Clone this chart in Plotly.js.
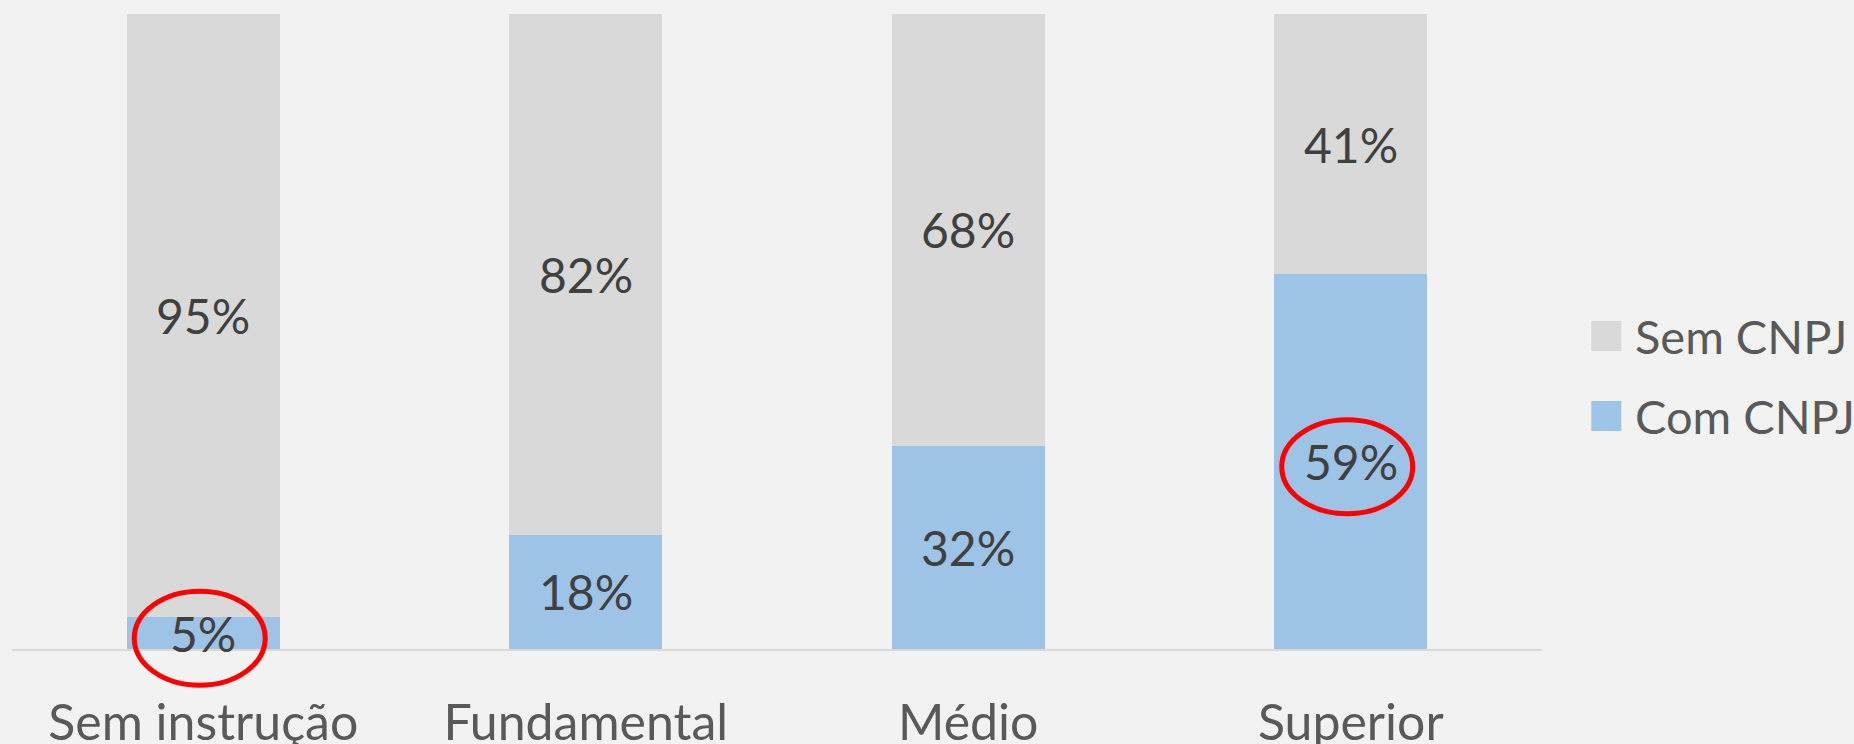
<!DOCTYPE html>
<html><head><meta charset="utf-8">
<script src="https://cdn.plot.ly/plotly-3.0.1.min.js"></script>
<style>html,body{margin:0;padding:0;background:#f2f2f2;}</style>
</head><body>
<div id="chart" style="width:1854px;height:744px;"></div>
<script>
const categories = ['Sem instrução', 'Fundamental', 'Médio', 'Superior'];
const comCNPJ = [5, 18, 32, 59];
const semCNPJ = [95, 82, 68, 41];
const seriesNames = ['Sem CNPJ', 'Com CNPJ'];
const seriesColors = ['#d9d9d9', '#9dc3e6'];
const highlighted = ['Sem instrução', 'Superior'];

const FONT = 'Lato, "Open Sans", sans-serif';
const YMAX = 100;

const traces = [
  {type: 'bar', name: seriesNames[1], x: categories, y: comCNPJ, marker: {color: seriesColors[1]}, showlegend: false, hoverinfo: 'skip'},
  {type: 'bar', name: seriesNames[0], x: categories, y: semCNPJ, marker: {color: seriesColors[0]}, showlegend: false, hoverinfo: 'skip'}
];

const annotations = [];
const shapes = [];
categories.forEach((c, i) => {
  annotations.push({x: c, y: comCNPJ[i] / 2, xref: 'x', yref: 'y', text: comCNPJ[i] + '%', showarrow: false,
    font: {family: FONT, size: 48, color: '#404040'}});
  annotations.push({x: c, y: comCNPJ[i] + semCNPJ[i] / 2, xref: 'x', yref: 'y', text: semCNPJ[i] + '%', showarrow: false,
    font: {family: FONT, size: 48, color: '#404040'}});
  if (highlighted.includes(c)) {
    // red ellipse around the label, in paper units derived from the category index and value
    const cx = (i + 0.5) / categories.length - 0.0023;
    const cy = comCNPJ[i] / 2 / YMAX - 0.008;
    shapes.push({type: 'circle', xref: 'paper', yref: 'paper', x0: cx - 0.0428, x1: cx + 0.0428, y0: cy - 0.074, y1: cy + 0.074,
      line: {color: '#ff0000', width: 5}, fillcolor: 'rgba(0,0,0,0)', layer: 'above'});
  }
});

// legend (drawn manually to match the large square keys)
const legendY = [0.4929, 0.3669];
seriesNames.forEach((n, k) => {
  shapes.push({type: 'rect', xref: 'paper', yref: 'paper', x0: 1.0322, x1: 1.0518, y0: legendY[k] - 0.0236, y1: legendY[k] + 0.0236,
    fillcolor: seriesColors[k], line: {width: 0}});
  annotations.push({x: 1.0597, y: legendY[k], xref: 'paper', yref: 'paper', xanchor: 'left', yanchor: 'middle', text: n, showarrow: false,
    font: {family: FONT, size: 47, color: '#595959'}});
});

const layout = {
  width: 1854, height: 744,
  margin: {l: 12, r: 312, t: 14, b: 95},
  paper_bgcolor: '#f2f2f2', plot_bgcolor: '#f2f2f2',
  barmode: 'stack', bargap: 0.6,
  showlegend: false,
  xaxis: {type: 'category', range: [-0.5, 3.5], showline: true, linecolor: '#d9d9d9', linewidth: 2,
    ticks: '', showgrid: false, zeroline: false, ticklabelstandoff: 29,
    tickfont: {family: FONT, size: 50, color: '#595959'}},
  yaxis: {range: [0, YMAX], visible: false, showgrid: false, zeroline: false},
  annotations: annotations,
  shapes: shapes
};

Plotly.newPlot('chart', traces, layout, {displayModeBar: false, staticPlot: true});
</script>
</body></html>
